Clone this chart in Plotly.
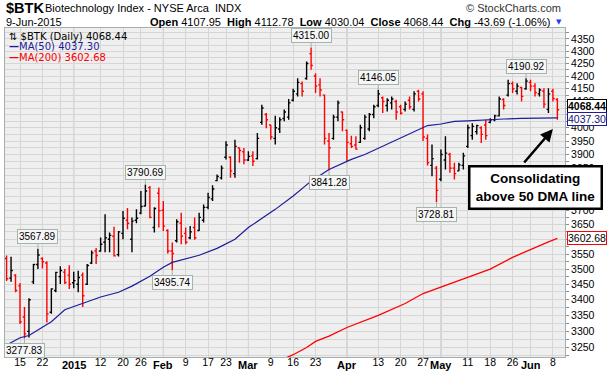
import math
import pandas as pd
import plotly.graph_objects as go

# ---------------- data ----------------
holidays = ["2014-12-25", "2015-01-01", "2015-01-19", "2015-02-16", "2015-04-03", "2015-05-25"]
dates = [d.strftime("%Y-%m-%d") for d in pd.bdate_range("2014-12-10", "2015-06-09")
         if d.strftime("%Y-%m-%d") not in holidays]

opens = [3535, 3470, 3480,
         3445, 3345, 3300, 3458, 3515, 3535, 3520, 3360, 3430, 3475, 3490, 3480,
         3455, 3450, 3480, 3450, 3520, 3560, 3560, 3590, 3600, 3610, 3548,
         3620, 3665, 3600, 3665, 3690, 3715, 3780, 3640, 3760,
         3700, 3630, 3560, 3595, 3655, 3620, 3605, 3640, 3630, 3665, 3710, 3740, 3805, 3815, 3890, 3890, 3830, 3925, 3910,
         3880, 3895, 3885, 4020, 4050, 4010, 3960, 3995, 4035, 4040, 4105, 4130, 4170, 4190, 4290, 4200, 4165, 4125, 3950, 3960, 4040, 4060,
         3990, 3940, 3935, 3945, 3960, 3995, 4050, 4085, 4115, 4085, 4095, 4100, 4080, 4070, 4105, 4070, 4140, 4130, 3960, 3860, 3850,
         3810, 3880, 3900, 3850, 3840, 3860, 3930, 3970, 3985, 4000, 4010, 4020, 4030, 4045, 4108, 4125, 4170, 4140, 4155, 4150,
         4175, 4160, 4130, 4140, 4070, 4140, 4107.95]
highs = [3545, 3541, 3483,
         3454, 3377, 3405, 3517, 3567.89, 3539, 3526, 3437, 3491, 3509, 3500, 3513,
         3491, 3494, 3489, 3517, 3562, 3570, 3606, 3686, 3623, 3643, 3628,
         3697, 3708, 3675, 3703, 3768, 3790.69, 3786, 3710, 3780,
         3732, 3634, 3589, 3669, 3691, 3640, 3645, 3675, 3691, 3720, 3762, 3788, 3827, 3860, 3949, 3894, 3955, 3926, 3924,
         3912, 3912, 3980, 4088, 4056, 4011, 4045, 4040, 4069, 4110, 4150, 4191, 4178, 4258, 4315.00, 4211, 4191, 4127, 3980, 4049, 4104, 4062,
         3993, 3970, 3968, 4011, 4049, 4056, 4088, 4146.05, 4120, 4113, 4120, 4107, 4088, 4100, 4120, 4140, 4146, 4140, 3974, 3937, 3858,
         3918, 3968, 3906, 3870, 3870, 3906, 4011, 4017, 4011, 4005, 4030, 4036, 4049, 4120, 4113, 4185, 4178, 4172, 4158, 4190.92,
         4185, 4172, 4152, 4152, 4152, 4150, 4112.78]
lows = [3461, 3458, 3424,
        3323, 3277.83, 3281, 3451, 3500, 3502, 3328, 3355, 3424, 3451, 3451, 3435,
        3437, 3424, 3377, 3448, 3517, 3517, 3558, 3556, 3556, 3542, 3542,
        3600, 3634, 3556, 3655, 3686, 3713, 3672, 3623, 3640,
        3628, 3552, 3495.74, 3589, 3583, 3583, 3600, 3598, 3628, 3657, 3703, 3732, 3803, 3809, 3882, 3815, 3815, 3870, 3864,
        3876, 3858, 3882, 4011, 3998, 3955, 3937, 3980, 4024, 4030, 4100, 4120, 4120, 4185, 4225, 4133, 4120, 3937, 3841.28, 3955, 4024, 3987,
        3876, 3924, 3918, 3943, 3955, 3987, 4036, 4078, 4056, 4062, 4069, 4030, 4050, 4062, 4069, 4062, 4100, 3950, 3860, 3821, 3728.81,
        3803, 3845, 3833, 3809, 3839, 3845, 3924, 3955, 3974, 3943, 3955, 4017, 4024, 4043, 4069, 4120, 4133, 4127, 4100, 4146,
        4140, 4120, 4120, 4075, 4056, 4100, 4030.04]
closes = [3468, 3495, 3430,
          3330, 3292, 3400, 3515, 3547, 3524, 3355, 3435, 3489, 3495, 3456, 3450,
          3462, 3472, 3413, 3512, 3554, 3545, 3583, 3605, 3613, 3544, 3625,
          3672, 3655, 3662, 3672, 3713, 3768, 3675, 3706, 3698,
          3645, 3560, 3552, 3660, 3610, 3590, 3625, 3605, 3675, 3710, 3745, 3775, 3820, 3850, 3935, 3840, 3930, 3915, 3880,
          3893, 3875, 3960, 4075, 4030, 3965, 4000, 4030, 4060, 4095, 4140, 4175, 4140, 4250, 4242, 4160, 4145, 3960, 3925, 4040, 4095, 4030,
          3945, 3930, 3920, 4000, 4040, 4050, 4080, 4130, 4100, 4105, 4110, 4060, 4055, 4090, 4080, 4130, 4110, 3965, 3870, 3885, 3770,
          3900, 3905, 3850, 3830, 3862, 3895, 4000, 4005, 4008, 3975, 3970, 4030, 4045, 4110, 4085, 4170, 4150, 4160, 4120, 4180,
          4160, 4135, 4145, 4090, 4130, 4112.13, 4068.44]

ma50_dates = ["2014-12-10", "2014-12-15", "2014-12-17", "2014-12-24", "2014-12-30", "2015-01-06", "2015-01-12",
              "2015-01-16", "2015-01-22", "2015-01-28", "2015-02-02", "2015-02-04", "2015-02-09", "2015-02-12",
              "2015-02-19", "2015-02-25", "2015-03-02", "2015-03-05", "2015-03-10", "2015-03-16", "2015-03-20",
              "2015-03-26", "2015-04-02", "2015-04-08", "2015-04-14", "2015-04-20", "2015-04-24", "2015-04-28",
              "2015-05-01", "2015-05-06", "2015-05-11", "2015-05-15", "2015-05-21", "2015-05-28", "2015-06-02",
              "2015-06-05", "2015-06-09"]
ma50_vals = [3258, 3280, 3287, 3330, 3368, 3389, 3409, 3424, 3444, 3476, 3506, 3522, 3535, 3546, 3569, 3600,
             3640, 3671, 3703, 3750, 3803, 3845, 3882, 3900, 3930, 3961, 3993, 4008, 4014, 4024, 4026, 4030,
             4033, 4035, 4036, 4036, 4037.30]

ma200_dates = ["2015-03-11", "2015-03-16", "2015-03-19", "2015-03-23", "2015-03-26", "2015-04-01", "2015-04-13",
               "2015-04-21", "2015-04-27", "2015-05-01", "2015-05-08", "2015-05-18", "2015-05-26", "2015-06-02",
               "2015-06-05", "2015-06-09"]
ma200_vals = [3210, 3228, 3250, 3269, 3285, 3312, 3350, 3388, 3420, 3441, 3467, 3500, 3539, 3573, 3591, 3602.68]

tick_dates = ["2014-12-15", "2014-12-22", "2014-12-29", "2015-01-02", "2015-01-12", "2015-01-20", "2015-01-26",
              "2015-02-02", "2015-02-09", "2015-02-17", "2015-02-23", "2015-03-02", "2015-03-09", "2015-03-16",
              "2015-03-23", "2015-04-01", "2015-04-13", "2015-04-20", "2015-04-27", "2015-05-01", "2015-05-11",
              "2015-05-18", "2015-05-26", "2015-06-01", "2015-06-08"]
tick_text = ["15", "22", "", "", "12", "20", "26", "", "9", "17", "23", "", "9", "16",
             "23", "", "13", "20", "27", "", "11", "18", "26", "", "8"]
month_dates = ["2015-01-02", "2015-02-02", "2015-03-02", "2015-04-01", "2015-05-01", "2015-06-01"]
month_text = ["2015", "Feb", "Mar", "Apr", "May", "Jun"]

y_ticks = list(range(3225, 4400, 25))
y_hidden = [4050, 3600]  # covered by the value boxes at the right edge

label_dates = ["2014-12-16", "2014-12-19", "2015-01-27", "2015-02-04", "2015-03-20", "2015-03-26",
               "2015-04-13", "2015-04-30", "2015-05-29"]
label_kind = ["low", "high", "high", "low", "high", "low", "high", "low", "high"]

# ---------------- layout helpers ----------------
W, H = 612, 373
ML, MR, MT, MB = 5, 47, 28, 16
PW, PH = W - ML - MR, H - MT - MB


def px_x(px):
    return (px - ML) / PW


def px_y(py):
    return (H - MB - py) / PH


FONT = "Liberation Sans, Arial, sans-serif"
LFONT = "DejaVu Sans, Verdana, sans-serif"

# ---------------- figure ----------------
fig = go.Figure()

colors = []
for i, c in enumerate(closes):
    prev = closes[i - 1] if i > 0 else opens[0]
    colors.append("#000000" if c >= prev else "#ff0000")

for col in ["#000000", "#ff0000"]:
    idx = [i for i, c in enumerate(colors) if c == col]
    fig.add_trace(go.Ohlc(
        x=[dates[i] for i in idx],
        open=[opens[i] for i in idx], high=[highs[i] for i in idx],
        low=[lows[i] for i in idx], close=[closes[i] for i in idx],
        increasing=dict(line=dict(color=col, width=1.4)),
        decreasing=dict(line=dict(color=col, width=1.4)),
        tickwidth=0.4, showlegend=False, hoverinfo="x+y"))

fig.add_trace(go.Scatter(x=ma50_dates, y=ma50_vals, mode="lines",
                         line=dict(color="#1c1c9c", width=1.2), showlegend=False))
fig.add_trace(go.Scatter(x=ma200_dates, y=ma200_vals, mode="lines",
                         line=dict(color="#ff0000", width=1.3), showlegend=False))

shapes = []
for d in month_dates:
    k = dates.index(d)
    shapes.append(dict(type="line", xref="x", yref="paper", x0=k, x1=k, y0=0, y1=1,
                       line=dict(color="#b3b8b8", width=1), layer="below"))

ann = []
# bold month labels under the axis
for d, t in zip(month_dates, month_text):
    ann.append(dict(x=d, y=px_y(365), xref="x", yref="paper", xanchor="center", yanchor="middle",
                    showarrow=False, text="<b>%s</b>" % t,
                    font=dict(family=FONT, size=11, color="#000")))

# high / low labels
for d, kind in zip(label_dates, label_kind):
    k = dates.index(d)
    v = highs[k] if kind == "high" else lows[k]
    ann.append(dict(x=d, y=math.log10(v), xref="x", yref="y", text="%.2f" % v,
                    showarrow=True, arrowhead=0, arrowwidth=1, arrowcolor="#a3b4ac",
                    ax=0, ay=-12 if kind == "high" else 12,
                    font=dict(family=FONT, size=10, color="#000"),
                    bgcolor="#f6f6f6", bordercolor="#a3b4ac", borderwidth=1, borderpad=1))

# right side value boxes
ann.append(dict(x=px_x(567), y=math.log10(closes[-1]), xref="paper", yref="y", xanchor="left",
                yanchor="middle", yshift=3.5, showarrow=False, text="<b>%.2f</b>" % closes[-1],
                font=dict(family=FONT, size=10.5, color="#000"), bgcolor="#ffffff",
                bordercolor="#000000", borderwidth=1, borderpad=0))
ann.append(dict(x=px_x(567), y=math.log10(ma50_vals[-1]), xref="paper", yref="y", xanchor="left",
                yanchor="middle", yshift=-1, showarrow=False, text="%.2f" % ma50_vals[-1],
                font=dict(family=FONT, size=10.5, color="#10107a"), bgcolor="#ffffff",
                bordercolor="#1c1c9c", borderwidth=1, borderpad=0))
ann.append(dict(x=px_x(567), y=math.log10(ma200_vals[-1]), xref="paper", yref="y", xanchor="left",
                yanchor="middle", showarrow=False, text="%.2f" % ma200_vals[-1],
                font=dict(family=FONT, size=10.5, color="#000"), bgcolor="#ffffff",
                bordercolor="#ff0000", borderwidth=1, borderpad=0))

# header
ann += [
    dict(x=px_x(4), y=px_y(8), xref="paper", yref="paper", xanchor="left", yanchor="middle",
         showarrow=False, text="<b>$BTK</b>", font=dict(family=FONT, size=14.5, color="#000")),
    dict(x=px_x(43), y=px_y(8), xref="paper", yref="paper", xanchor="left", yanchor="middle",
         showarrow=False, text="Biotechnology Index - NYSE Arca&nbsp; INDX",
         font=dict(family=FONT, size=11, color="#000")),
    dict(x=px_x(563), y=px_y(8), xref="paper", yref="paper", xanchor="right", yanchor="middle",
         showarrow=False, text="© StockCharts.com", font=dict(family=FONT, size=11, color="#333")),
    dict(x=px_x(4), y=px_y(22), xref="paper", yref="paper", xanchor="left", yanchor="middle",
         showarrow=False, text="9-Jun-2015", font=dict(family=FONT, size=11, color="#000")),
    dict(x=px_x(552), y=px_y(22), xref="paper", yref="paper", xanchor="right", yanchor="middle",
         showarrow=False,
         text="<b>Open</b> %.2f&nbsp; <b>High</b> %.2f&nbsp; <b>Low</b> %.2f&nbsp; <b>Close</b> %.2f&nbsp; <b>Chg</b> -43.69 (-1.06%%)"
              % (opens[-1], highs[-1], lows[-1], closes[-1]),
         font=dict(family=FONT, size=11, color="#000")),
    dict(x=px_x(559), y=px_y(22.5), xref="paper", yref="paper", xanchor="center", yanchor="middle",
         showarrow=False, text="▼", font=dict(family=LFONT, size=7, color="#1e3cff")),
]

# legend (inside plot)
ann += [
    dict(x=px_x(7), y=px_y(36), xref="paper", yref="paper", xanchor="left", yanchor="middle",
         showarrow=False, text="⇅ $BTK (Daily) %.2f" % closes[-1],
         font=dict(family=LFONT, size=10, color="#000")),
    dict(x=px_x(7), y=px_y(46.5), xref="paper", yref="paper", xanchor="left", yanchor="middle",
         showarrow=False, text="<b>—</b>MA(50) %.2f" % ma50_vals[-1],
         font=dict(family=LFONT, size=10, color="#1c1c9c")),
    dict(x=px_x(7), y=px_y(57), xref="paper", yref="paper", xanchor="left", yanchor="middle",
         showarrow=False, text="<b>—</b>MA(200) %.2f" % ma200_vals[-1],
         font=dict(family=LFONT, size=10, color="#ff0000")),
]

# callout
ann.append(dict(x="2015-06-08", y=math.log10(3995), xref="x", yref="y", ax=-30, ay=35,
                showarrow=True, arrowhead=2, arrowsize=1, arrowwidth=2.5, arrowcolor="#000", text=""))
ann.append(dict(x=px_x(535), y=px_y(187), xref="paper", yref="paper", xanchor="center", yanchor="middle",
                showarrow=False, text="<b>Consolidating<br>above 50 DMA line</b>",
                font=dict(family=FONT, size=13.5, color="#000"), align="center",
                width=126, height=36, bgcolor="#ffffff", bordercolor="#000000", borderwidth=2.5, borderpad=2))

fig.update_layout(
    width=W, height=H, margin=dict(l=ML, r=MR, t=MT, b=MB),
    paper_bgcolor="#ffffff", plot_bgcolor="#efefef",
    showlegend=False, shapes=shapes, annotations=ann,
    xaxis=dict(type="category", categoryorder="array", categoryarray=dates,
               range=[-0.35, len(dates) + 0.7], rangeslider=dict(visible=False),
               tickmode="array", tickvals=tick_dates, ticktext=tick_text,
               showgrid=True, gridcolor="#d6d6d6", gridwidth=1, ticks="",
               ticklabelstandoff=-5,
               tickfont=dict(family=FONT, size=10.5, color="#000"),
               showline=True, mirror=True, linecolor="#a3aeae", linewidth=1,
               automargin=False, fixedrange=True),
    yaxis=dict(type="log", side="right", range=[math.log10(3221), math.log10(4395)],
               tickmode="array", tickvals=y_ticks,
               ticktext=[str(v) if (v % 50 == 0 and v not in y_hidden) else "" for v in y_ticks],
               showgrid=True, gridcolor="#d6d6d6", gridwidth=1,
               ticks="outside", ticklen=3, tickcolor="#8a9090",
               tickfont=dict(family=FONT, size=10.5, color="#000"),
               showline=True, mirror=True, linecolor="#a3aeae", linewidth=1,
               automargin=False, fixedrange=True),
)

fig.write_html("out.html", config={"displayModeBar": False},
               post_script="document.body.style.margin='0px';document.body.style.overflow='hidden';")
